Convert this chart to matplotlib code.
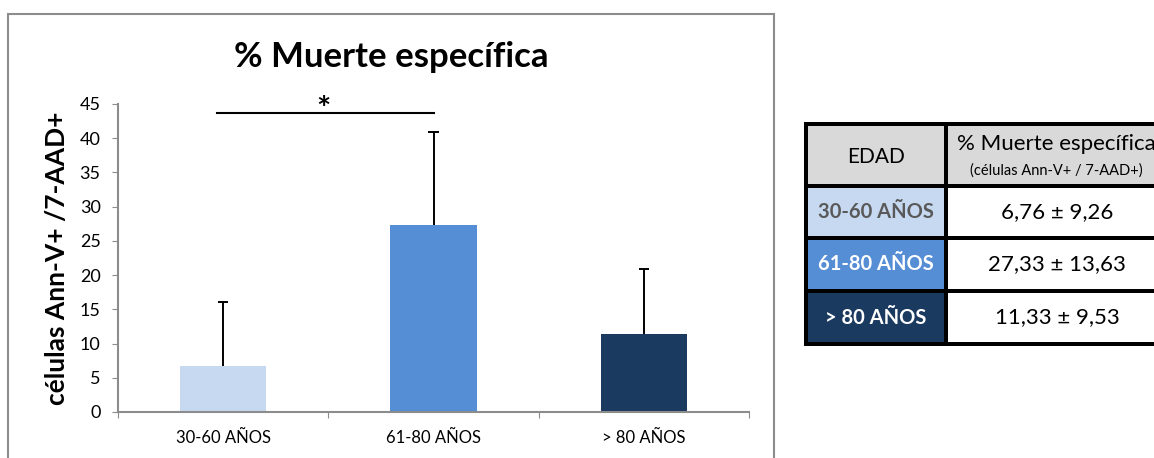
import matplotlib
matplotlib.use("Agg")
import matplotlib.pyplot as plt
from matplotlib.patches import Rectangle

categories = ["30-60 AÑOS", "61-80 AÑOS", "> 80 AÑOS"]
means = [6.76, 27.33, 11.33]
sds = [9.26, 13.63, 9.53]
bar_colors = ["#C6D9F1", "#558ED5", "#1B3A5F"]
yticks = [0, 5, 10, 15, 20, 25, 30, 35, 40, 45]
title = "% Muerte específica"
ylabel = "células Ann-V+ /7-AAD+"
table_header = ["EDAD", "% Muerte específica", "(células Ann-V+ / 7-AAD+)"]
row_text_colors = ["#595959", "white", "white"]

plt.rcParams['font.family'] = ['Lato', 'DejaVu Sans']

W, H = 1154, 458
fig = plt.figure(figsize=(W / 100, H / 100), dpi=100)

def fx(px):
    return px / W

def fy(py):
    return 1 - py / H

# chart frame
fig.patches.append(Rectangle((fx(8), fy(470)), fx(774) - fx(8), fy(14) - fy(470),
                             transform=fig.transFigure, fill=False,
                             edgecolor="#8C8C8C", linewidth=1.5))

ax = fig.add_axes([fx(118), fy(412), fx(749) - fx(118), fy(104) - fy(412)])
x = list(range(len(categories)))
ax.bar(x, means, width=0.41, color=bar_colors, zorder=2)
tops = [m + s for m, s in zip(means, sds)]
ax.vlines(x, means, tops, color="black", linewidth=1.4, zorder=3)
ax.hlines(tops, [xi - 0.025 for xi in x], [xi + 0.025 for xi in x],
          color="black", linewidth=1.4, zorder=3)
ax.set_xlim(-0.5, 2.5)
ax.set_ylim(0, 45)
ax.set_yticks(yticks)
ax.set_yticklabels([str(v) for v in yticks], fontsize=13)
ax.set_xticks([-0.5, 0.5, 1.5, 2.5])
ax.set_xticklabels([])
ax.set_xticks(x, minor=True)
ax.set_xticklabels(categories, minor=True, fontsize=12)
ax.tick_params(axis="x", which="minor", length=0, pad=13)
ax.tick_params(axis="x", which="major", length=4.5, color="#8C8C8C", direction="out")
ax.tick_params(axis="y", length=4.5, color="#8C8C8C", direction="out", pad=8)
for s in ["top", "right"]:
    ax.spines[s].set_visible(False)
for s in ["left", "bottom"]:
    ax.spines[s].set_color("#8C8C8C")
    ax.spines[s].set_linewidth(1.5)
ax.set_ylabel(ylabel, fontsize=19, fontweight="bold", labelpad=8)

# significance
ax.plot([-0.03, 1.0], [43.7, 43.7], color="black", linewidth=1.5, clip_on=False)
ax.text(0.475, 42.6, "*", ha="center", va="baseline", fontsize=24, fontweight="bold")

fig.text(fx(391), fy(57), title, ha="center", va="center", fontsize=25, fontweight="bold")

# table
fig.patches.append(Rectangle((fx(804), fy(346)), fx(1160) - fx(804), fy(122) - fy(346),
                             transform=fig.transFigure, facecolor="black", edgecolor="none"))
col1 = (808, 944)
col2 = (948, 1160)
rows = [(126, 184), (188, 236), (240, 289), (293, 342)]

def cell(c, r, color):
    fig.patches.append(Rectangle((fx(c[0]), fy(r[1])), fx(c[1]) - fx(c[0]), fy(r[0]) - fy(r[1]),
                                 transform=fig.transFigure, facecolor=color, edgecolor="none"))

cell(col1, rows[0], "#D9D9D9")
cell(col2, rows[0], "#D9D9D9")
fig.text(fx(876), fy(157), table_header[0], ha="center", va="center", fontsize=15)
fig.text(fx(1056), fy(144), table_header[1], ha="center", va="center", fontsize=16)
fig.text(fx(1056), fy(171), table_header[2], ha="center", va="center", fontsize=10.5)
for i in range(3):
    r = rows[i + 1]
    cell(col1, r, bar_colors[i])
    cell(col2, r, "white")
    yc = (r[0] + r[1]) / 2
    fig.text(fx(876), fy(yc), categories[i], ha="center", va="center", fontsize=14.5,
             fontweight="bold", color=row_text_colors[i])
    val = f"{means[i]:.2f} ± {sds[i]:.2f}".replace(".", ",")
    fig.text(fx(1057), fy(yc), val, ha="center", va="center", fontsize=16)

fig.savefig("out.png", dpi=100)
